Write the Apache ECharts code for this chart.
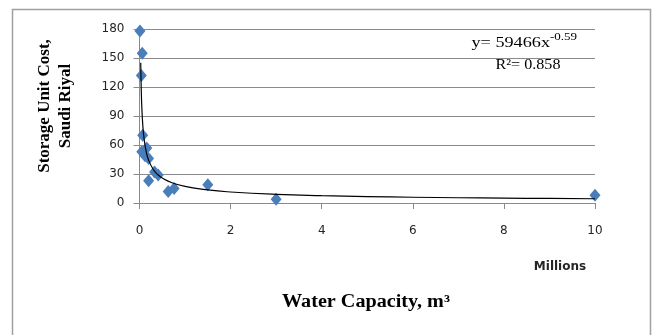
<!DOCTYPE html>
<html>
<head>
<meta charset="utf-8">
<script src="https://cdn.jsdelivr.net/npm/echarts@6/dist/echarts.min.js"></script>
<style>
html,body{margin:0;padding:0;background:#fff;}
#chart{width:656px;height:335px;}
</style>
</head>
<body>
<div id="chart"></div>
<script>
// Data (x in millions of m3, y in Saudi Riyal)
const capacityMillions = [0.01, 0.06, 0.04, 0.07, 0.16, 0.05, 0.12, 0.2, 0.33, 0.41, 0.2, 0.63, 0.76, 1.5, 3, 10];
const unitCost        = [178,  155,  132,  70,   57,   53,   49,   46,  32,   29,   23,  12,   15,   19,  4, 8];
// Power trendline (y = 59466x^-0.59)
const trendX = [0.027, 0.03, 0.04, 0.05, 0.07, 0.1, 0.15, 0.2, 0.3, 0.4, 0.5, 0.7, 1, 1.5, 2, 3, 4, 5, 6, 7, 8, 9, 10];
const trendY = [145, 135.8, 114.6, 100.4, 82.3, 66.7, 52.5, 44.3, 34.9, 29.4, 25.8, 21.2, 17.15, 13.5, 11.4, 8.97, 7.57, 6.64, 5.96, 5.44, 5.03, 4.69, 4.41];
const xTicks = [0, 2, 4, 6, 8, 10];
const yTicks = [0, 30, 60, 90, 120, 150, 180];
const equationText = 'y= 59466x';
const exponentText = '-0.59';
const r2Text = 'R\u00b2= 0.858';
const xTitle = 'Water Capacity, m\u00b3';
const yTitle = 'Storage Unit Cost,\nSaudi Riyal';
const unitsLabel = 'Millions';

const chart = echarts.init(document.getElementById('chart'));
const tickFont = {fontFamily: 'DejaVu Sans', fontSize: 12, color: '#262626'};
const axisGray = '#8a8a8a';

chart.setOption({
  animation: false,
  backgroundColor: '#fff',
  grid: {left: 139.5, right: 61, top: 29, bottom: 132},
  xAxis: {
    type: 'value', min: xTicks[0], max: xTicks[xTicks.length - 1], interval: 2,
    axisLine: {show: true, onZero: false, lineStyle: {color: axisGray, width: 1}},
    axisTick: {show: true, length: 6, lineStyle: {color: axisGray}},
    axisLabel: Object.assign({margin: 22}, tickFont),
    splitLine: {show: false}
  },
  yAxis: {
    type: 'value', min: yTicks[0], max: yTicks[yTicks.length - 1], interval: 30,
    axisLine: {show: true, lineStyle: {color: axisGray, width: 1}},
    axisTick: {show: true, length: 6, lineStyle: {color: axisGray}},
    axisLabel: Object.assign({margin: 15}, tickFont),
    splitLine: {show: true, lineStyle: {color: axisGray, width: 1}}
  },
  series: [
    {
      type: 'scatter',
      data: capacityMillions.map((x, i) => [x, unitCost[i]]),
      symbol: 'diamond',
      symbolSize: [11, 13],
      itemStyle: {color: '#4a7ebb', opacity: 1},
      z: 2
    },
    {
      type: 'line',
      data: trendX.map((x, i) => [x, trendY[i]]),
      smooth: true,
      showSymbol: false,
      symbol: 'none',
      lineStyle: {color: '#000', width: 1.2},
      z: 3
    }
  ],
  graphic: [
    {type: 'rect', shape: {x: 12.5, y: 9.5, width: 638, height: 340},
     style: {fill: 'none', stroke: '#a0a0a0', lineWidth: 1.5}, silent: true, z: -1},
    {type: 'text', x: 55, y: 106, rotation: Math.PI / 2,
     style: {text: yTitle, font: 'bold 17px "Liberation Serif"', fill: '#000',
             textAlign: 'center', textVerticalAlign: 'middle', lineHeight: 21}},
    {type: 'text', x: 366, y: 302, scaleX: 1.12, originX: 0, originY: 0,
     style: {text: xTitle, font: 'bold 18px "Liberation Serif"', fill: '#000',
             textAlign: 'center', textVerticalAlign: 'middle'}},
    {type: 'text', x: 560, y: 267,
     style: {text: unitsLabel, font: 'bold 12px "DejaVu Sans"', fill: '#262626',
             textAlign: 'center', textVerticalAlign: 'middle'}},
    {type: 'text', x: 550, y: 43, scaleX: 1.3,
     style: {text: equationText, font: '14px "Liberation Serif"', fill: '#000',
             textAlign: 'right', textVerticalAlign: 'middle'}},
    {type: 'text', x: 550, y: 37, scaleX: 1.3,
     style: {text: exponentText, font: '10px "Liberation Serif"', fill: '#000',
             textAlign: 'left', textVerticalAlign: 'middle'}},
    {type: 'text', x: 528, y: 65, scaleX: 1.15,
     style: {text: r2Text, font: '14px "Liberation Serif"', fill: '#000',
             textAlign: 'center', textVerticalAlign: 'middle'}}
  ]
});
</script>
</body>
</html>
